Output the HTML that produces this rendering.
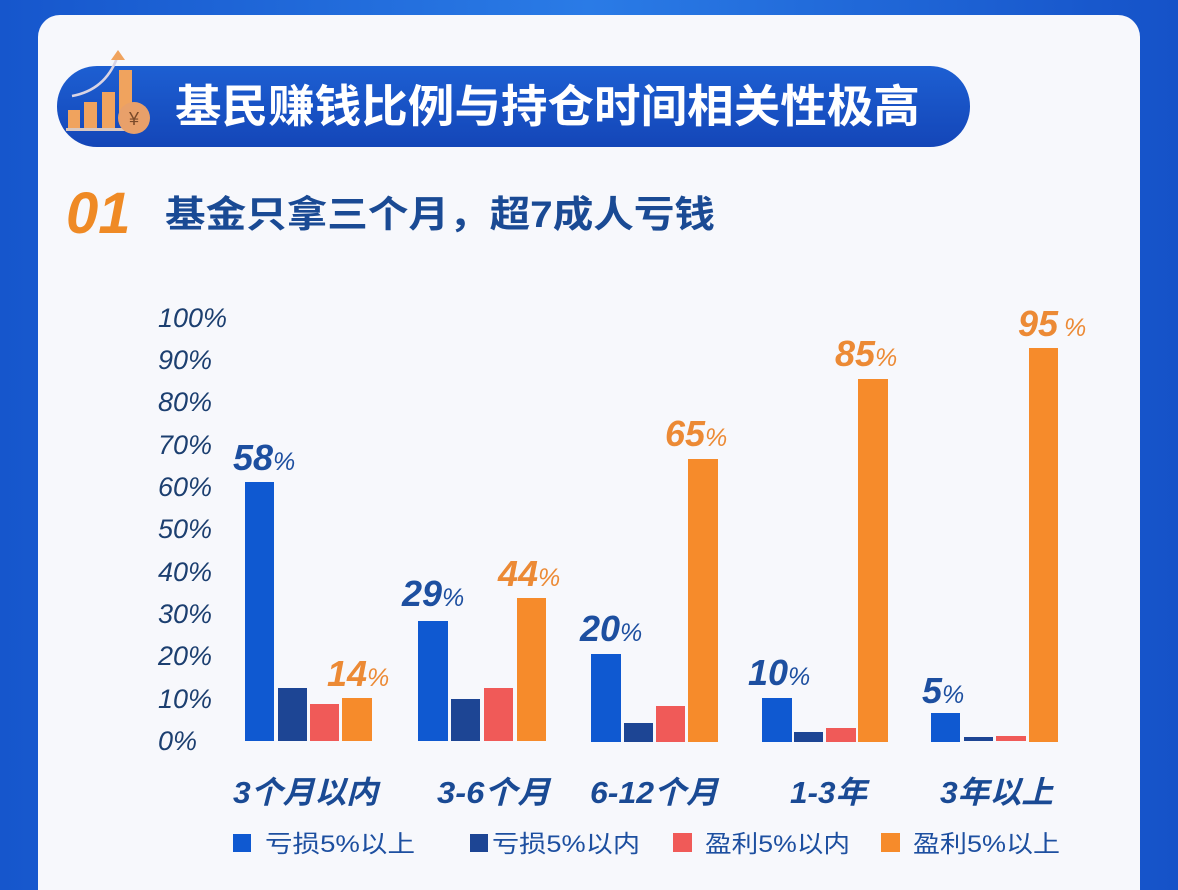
<!DOCTYPE html>
<html><head><meta charset="utf-8"><style>
html,body{margin:0;padding:0;width:1178px;height:890px;overflow:hidden;background:#1a5bd0}
svg{display:block}
</style></head><body>
<svg width="1178" height="890" viewBox="0 0 1178 890" xmlns="http://www.w3.org/2000/svg">
<defs>
<linearGradient id="bg" x1="0" y1="0" x2="1" y2="0"><stop offset="0" stop-color="#1656cc"/><stop offset="0.5" stop-color="#2a7be6"/><stop offset="1" stop-color="#1552c8"/></linearGradient>
<linearGradient id="pill" x1="0" y1="0" x2="0" y2="1"><stop offset="0" stop-color="#1d5fd2"/><stop offset="1" stop-color="#1446b8"/></linearGradient>
</defs>
<rect width="1178" height="890" fill="url(#bg)"/>
<rect x="38" y="15" width="1102" height="900" rx="22" fill="#f7f8fc"/>
<rect x="57" y="66" width="913" height="81" rx="40" fill="url(#pill)"/>
<g fill="#f0a35e">
<rect x="68" y="110" width="12" height="18"/><rect x="84" y="102" width="13" height="26"/><rect x="102" y="92" width="13" height="36"/><rect x="119" y="70" width="13" height="50"/>
</g>
<rect x="66" y="128" width="70" height="3" fill="#d8c7c0"/>
<path d="M72 96 Q105 90 117 58" stroke="#d9d4e4" stroke-width="2.5" fill="none"/>
<path d="M111 60 L118 50 L125 60 Z" fill="#f0a35e"/>
<circle cx="134" cy="118" r="16" fill="#e8a06a"/>
<text x="134" y="125" font-family="Liberation Sans, sans-serif" font-size="18" fill="#7a4a2a" text-anchor="middle">¥</text>
<text x="175" y="122" font-family="'Liberation Sans','Noto Sans CJK SC',sans-serif" font-weight="bold" font-size="45" fill="#fff" textLength="745" lengthAdjust="spacingAndGlyphs">基民赚钱比例与持仓时间相关性极高</text>
<text x="66" y="233" font-family="'Liberation Sans',sans-serif" font-style="italic" font-weight="bold" font-size="58" fill="#ef8a25">01</text>
<text x="165" y="227" font-family="'Liberation Sans','Noto Sans CJK SC',sans-serif" font-weight="bold" font-size="37" fill="#1a4a94" textLength="550" lengthAdjust="spacingAndGlyphs">基金只拿三个月，超7成人亏钱</text>
<g font-family="'Liberation Sans',sans-serif" font-style="italic" font-size="27" fill="#1c3f70">
<text x="158" y="327">100%</text><text x="158" y="369">90%</text><text x="158" y="411">80%</text><text x="158" y="454">70%</text><text x="158" y="496">60%</text><text x="158" y="538">50%</text><text x="158" y="581">40%</text><text x="158" y="623">30%</text><text x="158" y="665">20%</text><text x="158" y="708">10%</text><text x="158" y="750">0%</text>
</g>
<g>
<rect x="245" y="482" width="29" height="259" fill="#0f59d1"/>
<rect x="278" y="688" width="29" height="53" fill="#1d4594"/>
<rect x="310" y="704" width="29" height="37" fill="#f05a58"/>
<rect x="342" y="698" width="30" height="43" fill="#f68b2b"/>
<rect x="418" y="621" width="30" height="120" fill="#0f59d1"/>
<rect x="451" y="699" width="29" height="42" fill="#1d4594"/>
<rect x="484" y="688" width="29" height="53" fill="#f05a58"/>
<rect x="517" y="598" width="29" height="143" fill="#f68b2b"/>
<rect x="591" y="654" width="30" height="88" fill="#0f59d1"/>
<rect x="624" y="723" width="29" height="19" fill="#1d4594"/>
<rect x="656" y="706" width="29" height="36" fill="#f05a58"/>
<rect x="688" y="459" width="30" height="283" fill="#f68b2b"/>
<rect x="762" y="698" width="30" height="44" fill="#0f59d1"/>
<rect x="794" y="732" width="29" height="10" fill="#1d4594"/>
<rect x="826" y="728" width="30" height="14" fill="#f05a58"/>
<rect x="858" y="379" width="30" height="363" fill="#f68b2b"/>
<rect x="931" y="713" width="29" height="29" fill="#0f59d1"/>
<rect x="964" y="737" width="29" height="4" fill="#1d4594"/>
<rect x="996" y="736" width="30" height="5" fill="#f05a58"/>
<rect x="1029" y="348" width="29" height="394" fill="#f68b2b"/>
</g>
<g font-family="'Liberation Sans',sans-serif" font-style="italic" font-weight="bold" font-size="36">
<text x="233" y="470" fill="#1d4fa0">58<tspan font-size="25" font-weight="normal">%</tspan></text>
<text x="402" y="606" fill="#1d4fa0">29<tspan font-size="25" font-weight="normal">%</tspan></text>
<text x="580" y="641" fill="#1d4fa0">20<tspan font-size="25" font-weight="normal">%</tspan></text>
<text x="748" y="685" fill="#1d4fa0">10<tspan font-size="25" font-weight="normal">%</tspan></text>
<text x="922" y="703" fill="#1d4fa0">5<tspan font-size="25" font-weight="normal">%</tspan></text>
<text x="327" y="686" fill="#ec8a35">14<tspan font-size="25" font-weight="normal">%</tspan></text>
<text x="498" y="586" fill="#ec8a35">44<tspan font-size="25" font-weight="normal">%</tspan></text>
<text x="665" y="446" fill="#ec8a35">65<tspan font-size="25" font-weight="normal">%</tspan></text>
<text x="835" y="366" fill="#ec8a35">85<tspan font-size="25" font-weight="normal">%</tspan></text>
<text x="1018" y="336" fill="#ec8a35">95<tspan font-size="25" font-weight="normal" dx="6">%</tspan></text>
</g>
<g font-family="'Liberation Sans','Noto Sans CJK SC',sans-serif" font-style="italic" font-weight="bold" font-size="31" fill="#1a4a94">
<text x="233" y="803" textLength="145" lengthAdjust="spacingAndGlyphs">3个月以内</text>
<text x="437" y="803" textLength="113" lengthAdjust="spacingAndGlyphs">3-6个月</text>
<text x="590" y="803" textLength="128" lengthAdjust="spacingAndGlyphs">6-12个月</text>
<text x="790" y="803" textLength="77" lengthAdjust="spacingAndGlyphs">1-3年</text>
<text x="940" y="803" textLength="113" lengthAdjust="spacingAndGlyphs">3年以上</text>
</g>
<rect x="233" y="834" width="18" height="18" fill="#0f59d1"/>
<rect x="470" y="834" width="18" height="18" fill="#1d4594"/>
<rect x="673" y="833" width="19" height="19" fill="#f05a58"/>
<rect x="881" y="833" width="19" height="19" fill="#f68b2b"/>
<g font-family="'Liberation Sans','Noto Sans CJK SC',sans-serif" font-size="24" fill="#1d4fa0">
<text x="265" y="852" textLength="150" lengthAdjust="spacingAndGlyphs">亏损5%以上</text>
<text x="492" y="852" textLength="148" lengthAdjust="spacingAndGlyphs">亏损5%以内</text>
<text x="705" y="852" textLength="145" lengthAdjust="spacingAndGlyphs">盈利5%以内</text>
<text x="913" y="852" textLength="147" lengthAdjust="spacingAndGlyphs">盈利5%以上</text>
</g>
</svg>
</body></html>
